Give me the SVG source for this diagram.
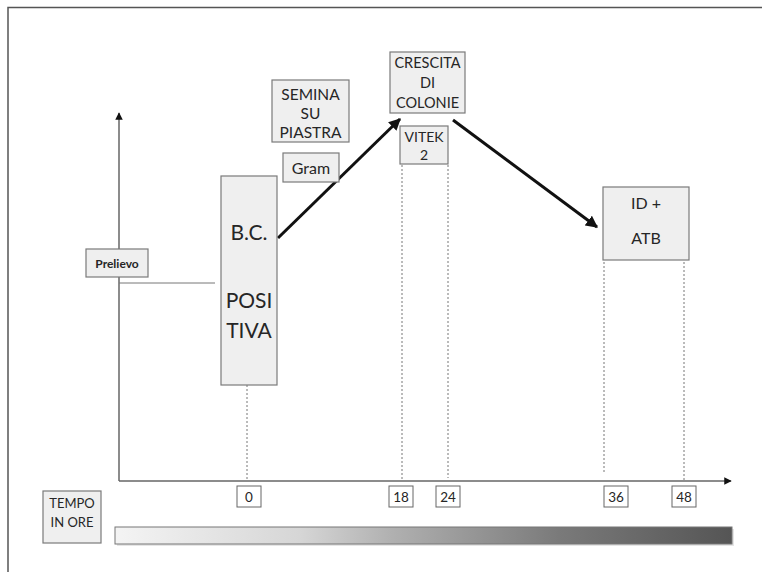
<svg xmlns="http://www.w3.org/2000/svg" width="762" height="572" viewBox="0 0 762 572">
<style>
.box{fill:#efefef;stroke:#7a7a7a;stroke-width:1.2}
.t{font-family:Lato,"Open Sans",sans-serif;fill:#262626;text-anchor:middle}
.dash{stroke:#777;stroke-width:1;stroke-dasharray:2,2;fill:none}
.axis{stroke:#666;stroke-width:1.5;fill:none}
.arr{stroke:#111;stroke-width:3;fill:none}
.tick{fill:#fff;stroke:#666;stroke-width:1}
</style>
<defs>
<marker id="ah" viewBox="0 0 10 10" refX="9" refY="5" markerWidth="4" markerHeight="4" orient="auto" markerUnits="strokeWidth">
<path d="M0,0 L10,5 L0,10 z" fill="#111"/>
</marker>
<marker id="ax" viewBox="0 0 10 10" refX="9" refY="5" markerWidth="5" markerHeight="5" orient="auto" markerUnits="strokeWidth">
<path d="M0,0 L10,5 L0,10 z" fill="#111"/>
</marker>
<linearGradient id="g" x1="0" x2="1" y1="0" y2="0">
<stop offset="0" stop-color="#f4f4f4"/>
<stop offset="0.3" stop-color="#d6d6d6"/>
<stop offset="0.45" stop-color="#b0b0b0"/>
<stop offset="0.72" stop-color="#7a7a7a"/>
<stop offset="1" stop-color="#555"/>
</linearGradient>
</defs>
<rect width="762" height="572" fill="#fff"/>
<path d="M8,572 V7.5 H762" fill="none" stroke="#555" stroke-width="1.5"/>

<g id="connectors">
<line class="axis" x1="119" y1="481" x2="119" y2="113" marker-end="url(#ax)"/>
<line class="axis" x1="119" y1="481" x2="731" y2="481" marker-end="url(#ax)"/>
<line x1="119" y1="283" x2="215" y2="283" stroke="#777" stroke-width="1"/>
<line class="dash" x1="247" y1="385" x2="247" y2="480"/>
<line class="dash" x1="402" y1="165" x2="402" y2="480"/>
<line class="dash" x1="448" y1="165" x2="448" y2="478"/>
<line class="dash" x1="604" y1="262" x2="604" y2="474"/>
<line class="dash" x1="684" y1="262" x2="684" y2="480"/>
<line class="arr" x1="278" y1="238" x2="400" y2="119" marker-end="url(#ah)"/>
<line class="arr" x1="453" y1="120" x2="597" y2="227" marker-end="url(#ah)"/>
</g>

<g id="prelievo">
<rect class="box" x="86" y="249" width="62" height="28"/>
<text class="t" x="117" y="267.5" font-size="12" font-weight="bold">Prelievo</text>
</g>

<g id="bc">
<rect class="box" x="221" y="176" width="56" height="209"/>
<text class="t" x="249" y="240" font-size="21">B.C.</text>
<text class="t" x="249" y="308" font-size="21">POSI</text>
<text class="t" x="249" y="338" font-size="21">TIVA</text>
</g>

<g id="semina">
<rect class="box" x="272" y="80" width="77" height="62"/>
<text class="t" x="310.5" y="100" font-size="15.5">SEMINA</text>
<text class="t" x="310.5" y="119" font-size="15.5">SU</text>
<text class="t" x="310.5" y="138" font-size="15.5">PIASTRA</text>
</g>

<g id="gram">
<rect class="box" x="283" y="153" width="56" height="29"/>
<text class="t" x="311" y="173.5" font-size="16">Gram</text>
</g>

<g id="crescita">
<rect class="box" x="390" y="52" width="75" height="61"/>
<text class="t" x="427.5" y="68" font-size="14.5">CRESCITA</text>
<text class="t" x="427.5" y="88" font-size="14.5">DI</text>
<text class="t" x="427.5" y="108" font-size="14.5">COLONIE</text>
</g>

<g id="vitek">
<rect class="box" x="400" y="126" width="48" height="38"/>
<text class="t" x="424" y="142" font-size="14">VITEK</text>
<text class="t" x="424" y="160" font-size="14">2</text>
</g>

<g id="idatb">
<rect class="box" x="603" y="187" width="86" height="73"/>
<text class="t" x="646" y="209" font-size="16">ID +</text>
<text class="t" x="646" y="244" font-size="16">ATB</text>
</g>

<g id="ticks">
<rect class="tick" x="237" y="486" width="24" height="21"/>
<text class="t" x="249" y="501.5" font-size="13.5">0</text>
<rect class="tick" x="389" y="486" width="24" height="21"/>
<text class="t" x="401" y="501.5" font-size="13.5">18</text>
<rect class="tick" x="436" y="486" width="24" height="21"/>
<text class="t" x="448" y="501.5" font-size="13.5">24</text>
<rect class="tick" x="604" y="486" width="24" height="21"/>
<text class="t" x="616" y="501.5" font-size="13.5">36</text>
<rect class="tick" x="672" y="486" width="24" height="21"/>
<text class="t" x="684" y="501.5" font-size="13.5">48</text>
</g>

<g id="tempo">
<rect class="box" x="43" y="491" width="58" height="52"/>
<text class="t" x="72" y="508" font-size="13">TEMPO</text>
<text class="t" x="72" y="527" font-size="13">IN ORE</text>
</g>

<g id="bar">
<rect x="117" y="529" width="617" height="17" fill="#ccc" opacity="0.5"/>
<rect x="115" y="527" width="617" height="17" fill="url(#g)" stroke="#777" stroke-width="1"/>
</g>
</svg>
